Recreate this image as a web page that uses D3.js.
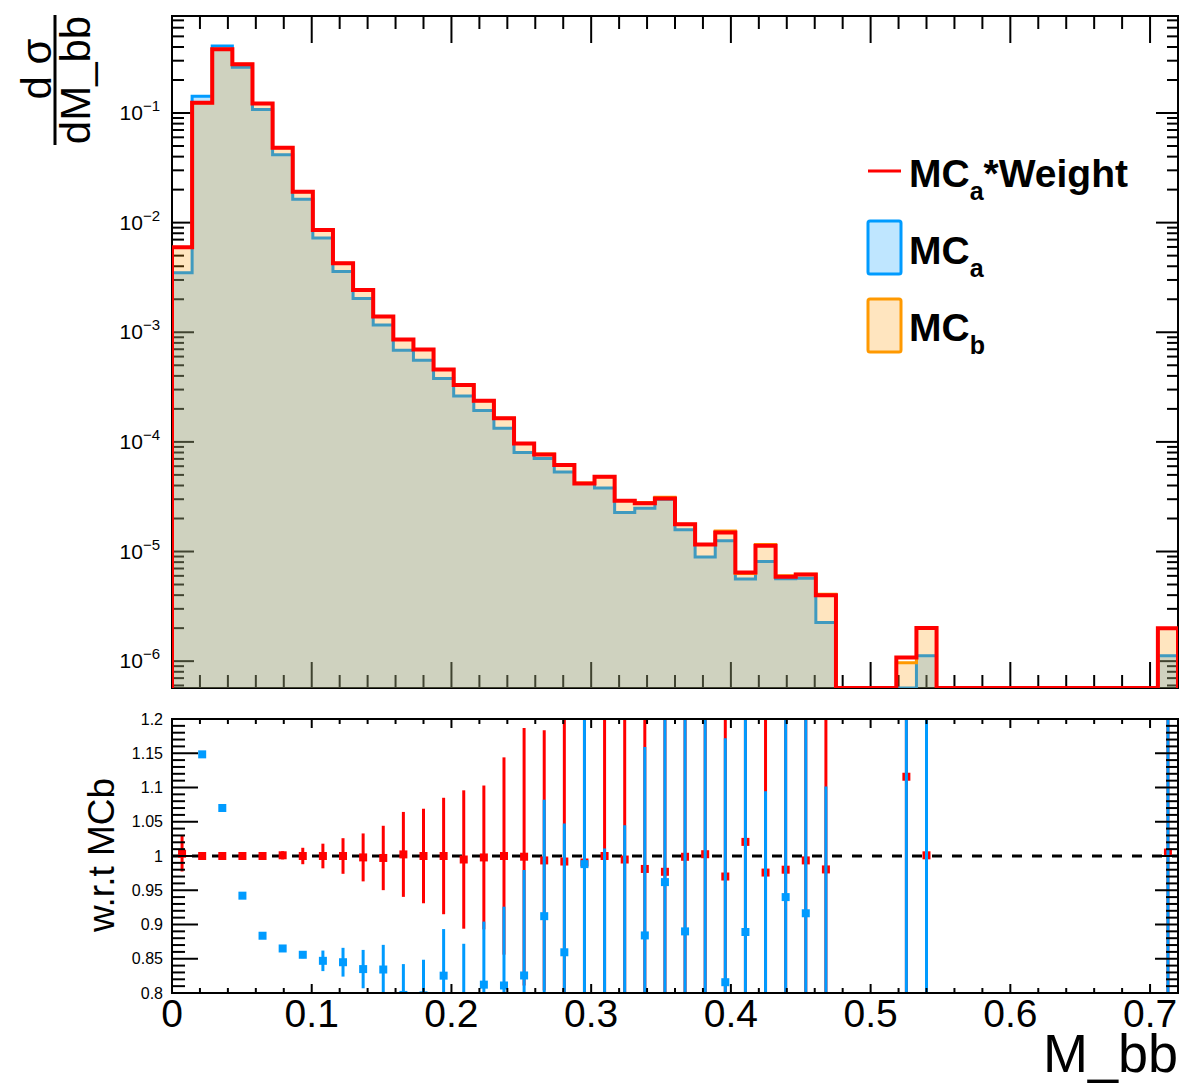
<!DOCTYPE html>
<html><head><meta charset="utf-8">
<script src="https://cdn.jsdelivr.net/npm/d3@7"></script>
<style>
body{margin:0;background:#fff}
svg{display:block}
text{font-family:"Liberation Sans",Arial,Helvetica,sans-serif;fill:#000}
</style>
</head><body>
<svg id="c" width="1179" height="1084"></svg>
<script>
// ---------------- data ----------------
const xRange = [0, 0.72];
const nBins = 50;
// MC_b histogram content per bin
const mcb = [5.94e-3, 0.124, 0.381, 0.278, 0.122, 0.04815, 0.01914, 8.56e-3, 4.25e-3, 2.435e-3,
  1.394e-3, 8.58e-4, 6.98e-4, 4.58e-4, 3.317e-4, 2.375e-4, 1.64e-4, 9.69e-5, 7.74e-5, 6.19e-5,
  4.22e-5, 4.81e-5, 2.915e-5, 2.803e-5, 3.122e-5, 1.772e-5, 1.157e-5, 1.536e-5, 6.31e-6, 1.158e-5,
  6.0e-6, 6.22e-6, 4.08e-6, 0, 0, 0, 9.68e-7, 2.008e-6, 0, 0,
  0, 0, 0, 0, 0, 0, 0, 0, 0, 1.99e-6];
// MC_a histogram content per bin
const mca = [3.49e-3, 0.1424, 0.4077, 0.2619, 0.1078, 0.04165, 0.01638, 7.25e-3, 3.591e-3, 2.033e-3,
  1.163e-3, 6.84e-4, 5.56e-4, 3.78e-4, 2.62e-4, 1.929e-4, 1.33e-4, 8.0e-5, 7.06e-5, 5.32e-5,
  4.17e-5, 3.80e-5, 2.268e-5, 2.478e-5, 3.003e-5, 1.577e-5, 8.91e-6, 1.253e-5, 5.61e-6, 8.11e-6,
  5.64e-6, 5.70e-6, 2.25e-6, 0, 0, 0, 3.0e-7, 1.12e-6, 0, 0,
  0, 0, 0, 0, 0, 0, 0, 0, 0, 1.12e-6];
// MC_a * Weight histogram content per bin
const mcaw = [5.96e-3, 0.124, 0.381, 0.278, 0.122, 0.0482, 0.01914, 8.56e-3, 4.25e-3, 2.43e-3,
  1.39e-3, 8.6e-4, 6.98e-4, 4.58e-4, 3.30e-4, 2.37e-4, 1.64e-4, 9.68e-5, 7.69e-5, 6.14e-5,
  4.18e-5, 4.81e-5, 2.90e-5, 2.75e-5, 3.05e-5, 1.77e-5, 1.16e-5, 1.49e-5, 6.44e-6, 1.13e-5,
  5.88e-6, 6.18e-6, 4.0e-6, 0, 0, 0, 1.08e-6, 2.01e-6, 0, 0,
  0, 0, 0, 0, 0, 0, 0, 0, 0, 2.0e-6];
// ratio errors (w.r.t. MC_b)
const errWeighted = [0.026, 0.003, 0.002, 0.003, 0.004, 0.006, 0.012, 0.018, 0.026, 0.035,
  0.047, 0.062, 0.069, 0.085, 0.101, 0.105, 0.144, 0.188, 0.19, 0.24,
  0.26, 0.3, 0.3, 0.35, 0.35, 0.4, 0.45, 0.45, 0.55, 0.5,
  0.6, 0.6, 0.7, 0, 0, 0, 0.9, 0.7, 0, 0,
  0, 0, 0, 0, 0, 0, 0, 0, 0, 0.7];
const errMCa = [0.01, 0.003, 0.003, 0.003, 0.003, 0.003, 0.005, 0.015, 0.021, 0.028,
  0.036, 0.045, 0.052, 0.068, 0.082, 0.092, 0.115, 0.154, 0.17, 0.188,
  0.3, 0.221, 0.267, 0.275, 0.35, 0.4, 0.45, 0.356, 0.5, 0.394,
  0.6, 0.6, 0.55, 0, 0, 0, 1.0, 0.75, 0, 0,
  0, 0, 0, 0, 0, 0, 0, 0, 0, 0.75];
const xTickLabels = ["0", "0.1", "0.2", "0.3", "0.4", "0.5", "0.6", "0.7"];
const ratioTickLabels = ["0.8", "0.85", "0.9", "0.95", "1", "1.05", "1.1", "1.15", "1.2"];
const logTickExponents = ["−6", "−5", "−4", "−3", "−2", "−1"];

// ---------------- layout ----------------
const svg = d3.select("#c");
const L = 172, R = 1178;
const T1 = 16, B1 = 688;
const T2 = 719, B2 = 993;
const yMinTop = 5.69e-7, yMaxTop = 0.767;

const x = d3.scaleLinear().domain(xRange).range([L, R]);
const yTop = d3.scaleLog().domain([yMinTop, yMaxTop]).range([B1, T1]);
const yBot = d3.scaleLinear().domain([0.8, 1.2]).range([B2, T2]);
const binW = (xRange[1] - xRange[0]) / nBins;
const edges = d3.range(nBins + 1).map(i => xRange[0] + i * binW);
const centers = d3.range(nBins).map(i => xRange[0] + (i + 0.5) * binW);

const defs = svg.append("defs");
defs.append("clipPath").attr("id", "clipTop").append("rect")
  .attr("x", L).attr("y", T1).attr("width", R - L).attr("height", B1 - T1);
defs.append("clipPath").attr("id", "clipBot").append("rect")
  .attr("x", L).attr("y", T2).attr("width", R - L).attr("height", B2 - T2);

function tick(g, x1, y1, x2, y2, w) {
  g.append("line").attr("x1", x1).attr("y1", y1).attr("x2", x2).attr("y2", y2)
    .attr("stroke", "#000").attr("stroke-width", w || 2);
}

// ---------------- top panel: axes (under the fills) ----------------
const gTopAx = svg.append("g");
gTopAx.append("rect").attr("x", L).attr("y", T1).attr("width", R - L).attr("height", B1 - T1)
  .attr("fill", "none").attr("stroke", "#000").attr("stroke-width", 2);
const xt = d3.range(0, 37).map(i => i * 0.02).filter(v => v <= xRange[1] + 1e-9);
xt.forEach((v, i) => {
  const major = i % 5 === 0;
  const px = x(v);
  tick(gTopAx, px, B1, px, B1 - (major ? 26 : 13));
  tick(gTopAx, px, T1, px, T1 + (major ? 27 : 13));
});
for (let e = -7; e <= 0; e++) {
  for (let m = 1; m <= 9; m++) {
    const v = m * Math.pow(10, e);
    if (v < yMinTop || v > yMaxTop) continue;
    const py = yTop(v);
    const major = m === 1;
    tick(gTopAx, L, py, L + (major ? 22 : 12), py);
    tick(gTopAx, R, py, R - (major ? 22 : 11), py);
  }
}
logTickExponents.forEach(ex => {
  const v = Math.pow(10, +ex.replace("−", "-"));
  const t = svg.append("text").attr("x", 160).attr("y", yTop(v) + 7).attr("text-anchor", "end");
  t.append("tspan").attr("font-size", 21).text("10");
  t.append("tspan").attr("font-size", 15).attr("dy", -9).text(ex);
});

// ---------------- top panel: histograms ----------------
function stepPoints(vals) {
  const pts = [[x(edges[0]), B1]];
  vals.forEach((v, i) => {
    const yy = v > yMinTop ? yTop(v) : B1;
    pts.push([x(edges[i]), yy], [x(edges[i + 1]), yy]);
  });
  pts.push([x(edges[nBins]), B1]);
  return pts;
}
const line = d3.line();
const gH = svg.append("g").attr("clip-path", "url(#clipTop)");
const BLUE = "rgb(0,155,255)", ORANGE = "rgb(255,153,0)", RED = "rgb(255,0,0)";
// MC_a
gH.append("path").attr("d", line(stepPoints(mca)) + "Z").attr("fill", BLUE).attr("fill-opacity", 0.25).attr("stroke", "none");
gH.append("path").attr("d", line(stepPoints(mca))).attr("fill", "none").attr("stroke", BLUE).attr("stroke-width", 3);
// MC_b
gH.append("path").attr("d", line(stepPoints(mcb)) + "Z").attr("fill", ORANGE).attr("fill-opacity", 0.25).attr("stroke", "none");
gH.append("path").attr("d", line(stepPoints(mcb))).attr("fill", "none").attr("stroke", ORANGE).attr("stroke-width", 3);
// MC_a * Weight
gH.append("path").attr("d", line(stepPoints(mcaw))).attr("fill", "none").attr("stroke", RED).attr("stroke-width", 4);

// ---------------- legend ----------------
const lg = svg.append("g");
lg.append("line").attr("x1", 868).attr("x2", 901).attr("y1", 171).attr("y2", 171)
  .attr("stroke", RED).attr("stroke-width", 3);
lg.append("rect").attr("x", 868).attr("y", 221).attr("width", 33).attr("height", 53).attr("rx", 2)
  .attr("fill", BLUE).attr("fill-opacity", 0.25).attr("stroke", BLUE).attr("stroke-width", 3);
lg.append("rect").attr("x", 868).attr("y", 299).attr("width", 33).attr("height", 53).attr("rx", 2)
  .attr("fill", ORANGE).attr("fill-opacity", 0.25).attr("stroke", ORANGE).attr("stroke-width", 3);
function legText(yb, sub, rest) {
  const t = lg.append("text").attr("x", 909).attr("y", yb).attr("font-weight", "bold").attr("font-size", 39);
  t.append("tspan").text("MC");
  t.append("tspan").attr("font-size", 25).attr("dy", 13).text(sub);
  if (rest) t.append("tspan").attr("font-size", 39).attr("dy", -13).text(rest);
}
legText(187, "a", "*Weight");
legText(264, "a", null);
legText(341, "b", null);

// ---------------- top y title ----------------
const gt = svg.append("g").attr("transform", "translate(55,80) rotate(-90)");
gt.append("line").attr("x1", -65).attr("x2", 65).attr("y1", 0).attr("y2", 0).attr("stroke", "#000").attr("stroke-width", 3);
gt.append("text").attr("x", 11).attr("y", -4).attr("text-anchor", "middle").attr("font-size", 42).text("d σ");
gt.append("text").attr("x", 0).attr("y", 35).attr("text-anchor", "middle").attr("font-size", 42).text("dM_bb");

// ---------------- bottom panel ----------------
const gB = svg.append("g").attr("clip-path", "url(#clipBot)");
gB.append("line").attr("x1", L).attr("x2", R).attr("y1", yBot(1)).attr("y2", yBot(1))
  .attr("stroke", "#000").attr("stroke-width", 3).attr("stroke-dasharray", "10,10");

function drawRatio(num, err, color) {
  const g = gB.append("g");
  num.forEach((v, i) => {
    if (!(mcb[i] > 0)) return;
    const r = v / mcb[i];
    const cx = x(centers[i]);
    if (err[i] > 0) {
      g.append("line").attr("x1", cx).attr("x2", cx)
        .attr("y1", yBot(r - err[i])).attr("y2", yBot(r + err[i]))
        .attr("stroke", color).attr("stroke-width", 3);
    }
    g.append("rect").attr("x", cx - 4).attr("y", yBot(r) - 4).attr("width", 8).attr("height", 8)
      .attr("fill", color);
  });
}
drawRatio(mcaw, errWeighted, RED);
drawRatio(mca, errMCa, BLUE);

// bottom axes (on top)
const gBAx = svg.append("g");
gBAx.append("rect").attr("x", L).attr("y", T2).attr("width", R - L).attr("height", B2 - T2)
  .attr("fill", "none").attr("stroke", "#000").attr("stroke-width", 2);
xt.forEach((v, i) => {
  const major = i % 5 === 0;
  const px = x(v);
  tick(gBAx, px, B2, px, B2 - (major ? 9 : 5));
  tick(gBAx, px, T2, px, T2 + (major ? 9 : 5));
});
d3.range(0, 41).forEach(i => {
  const v = 0.8 + i * 0.01;
  const py = yBot(v);
  const major = i % 5 === 0;
  tick(gBAx, L, py, L + (major ? 26 : 13), py);
  tick(gBAx, R, py, R - (major ? 23 : 12), py);
});
ratioTickLabels.forEach(s => {
  svg.append("text").attr("x", 163).attr("y", yBot(+s)).attr("dy", "0.35em")
    .attr("text-anchor", "end").attr("font-size", 16).text(s);
});
xTickLabels.forEach(s => {
  svg.append("text").attr("x", x(+s)).attr("y", 1027).attr("text-anchor", "middle")
    .attr("font-size", 39).text(s);
});
svg.append("text").attr("x", 1178).attr("y", 1072).attr("text-anchor", "end")
  .attr("font-size", 54).text("M_bb");
svg.append("g").attr("transform", "translate(114,855) rotate(-90)")
  .append("text").attr("text-anchor", "middle").attr("font-size", 37).text("w.r.t MCb");
</script>
</body></html>
